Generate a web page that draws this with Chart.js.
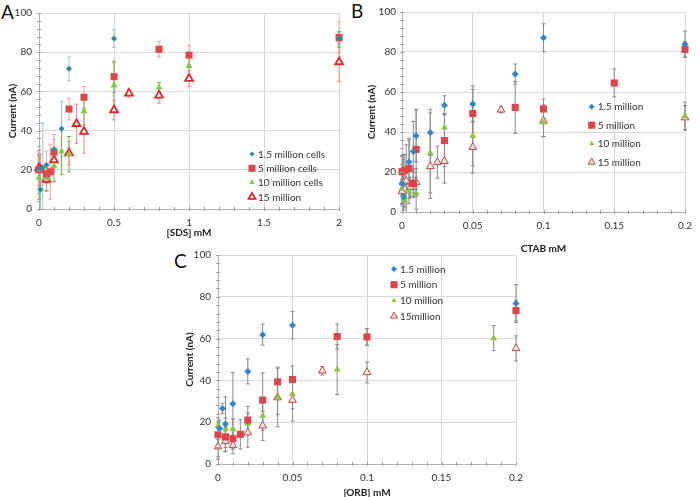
<!DOCTYPE html>
<html lang="en">
<head>
<meta charset="utf-8">
<title>Current vs surfactant concentration</title>
<script src="https://cdn.jsdelivr.net/npm/chart.js@4.4.1/dist/chart.umd.min.js"></script>
<style>
  body { margin: 0; background: #fff; width: 700px; height: 497px; overflow: hidden; position: relative; font-family: Lato, "Open Sans", sans-serif; }
  canvas { position: absolute; }
  .tag { position: absolute; font-size: 19px; color: #111; line-height: 1; }
</style>
</head>
<body>
<div class="tag" style="left:1px;top:2px">A</div>
<div class="tag" style="left:351px;top:1px">B</div>
<div class="tag" style="left:174px;top:251px">C</div>
<canvas id="chartA" width="350" height="245" style="left:0;top:0"></canvas>
<canvas id="chartB" width="350" height="258" style="left:350px;top:0"></canvas>
<canvas id="chartC" width="380" height="262" style="left:170px;top:240px"></canvas>
<script>
// each point is [x (mM), current (nA), error +/-]
// A: SDS
var sds_1_5 = [[0,20,8],[0.01,10,12],[0.025,21,23],[0.05,22.5,7],[0.1,30.5,5],[0.15,41,14],[0.2,71.5,6],[0.5,87,4.5],[2,87,3]];
var sds_5 = [[0,20,10],[0.05,18,5],[0.075,19,14],[0.1,29,9],[0.2,51,5.5],[0.3,57,5.5],[0.5,67.5,8],[0.8,81.5,4],[1,78.5,5],[2,87.5,8]];
var sds_10 = [[0,16,11],[0.05,15.5,6],[0.1,22,8],[0.15,29.5,12],[0.2,28,9],[0.3,50,7],[0.5,63,12],[0.8,62,2.5],[1,73,5],[2,86.5,4]];
var sds_15 = [[0,21,9],[0.01,20,8],[0.05,15,6],[0.1,25,6],[0.2,28.5,6],[0.25,43.5,10],[0.3,39.5,11],[0.5,50.5,5],[0.6,59,2],[0.8,58,4],[1,66.5,4],[2,75,10]];
// B: CTAB
var ctab_1_5 = [[0,14.2,6],[0.001,7.8,5],[0.005,25,11],[0.008,30.3,15],[0.01,38.1,13],[0.02,39.7,11.5],[0.03,53.4,4.7],[0.05,54,9],[0.08,69,5],[0.1,87.1,7],[0.2,83.9,6.5]];
var ctab_5 = [[0,20.2,8],[0.002,20.8,8],[0.005,21.8,15],[0.008,14.3,7],[0.01,31.3,20],[0.03,35.7,13],[0.05,49.2,12],[0.08,52.3,13],[0.1,51.5,5],[0.15,64.5,7],[0.2,81.3,4]];
var ctab_10 = [[0,11.6,8],[0.002,6,4],[0.005,10.3,6],[0.01,9.4,8],[0.02,29.5,20],[0.03,42.2,7],[0.05,38.1,15],[0.1,44.8,7],[0.2,47.9,7]];
var ctab_15 = [[0,10.3,6],[0.001,14.8,14],[0.003,15.6,18],[0.006,12.4,5],[0.008,14,6],[0.01,14.8,7],[0.02,22.8,16],[0.025,24.9,8],[0.03,25.4,11],[0.05,32.4,13],[0.07,51.1,1.5],[0.1,45.6,8],[0.2,47.2,6]];
// C: ORB
var orb_1_5 = [[0.001,17,4],[0.003,26.6,2.5],[0.005,19.1,13],[0.01,28.8,15],[0.02,44.3,6],[0.03,61.9,5],[0.05,66.4,6.5],[0.2,76.8,9]];
var orb_5 = [[0,14,6],[0.005,13,5],[0.01,12.1,5],[0.015,14.2,7],[0.02,21,6.5],[0.03,30.6,13],[0.04,39.3,7],[0.05,40.4,6.5],[0.08,61,6],[0.1,60.8,4],[0.2,73.4,5]];
var orb_10 = [[0,18.2,4],[0.005,17,5],[0.01,16.6,5],[0.02,19.3,5],[0.03,23.1,7],[0.04,31.8,8],[0.05,33.4,7],[0.08,45.2,12],[0.1,60.8,4],[0.185,60.2,6]];
var orb_15 = [[0,8.3,6],[0.005,10.8,5],[0.01,8.9,4],[0.02,15,7],[0.03,18.3,7],[0.04,31.8,14],[0.05,30.6,10],[0.07,44.6,2],[0.1,43.8,5],[0.2,55.3,6]];

var labelsA = ['1.5 million cells', '5 million cells', '10 million cells', '15 million'];
var labelsB = ['1.5 million', '5 million', '10 million', '15 million'];
var labelsC = ['1.5 million', '5 million', '10 million', '15million'];

var FONT = 'Lato, "Open Sans", sans-serif';

function pts(arr) {
  return arr.map(function(p) { return {x: p[0], y: p[1], e: p[2]}; });
}

// vertical error bars with caps, drawn under the markers
var errorBars = {
  id: 'errorBars',
  beforeDatasetsDraw: function(chart) {
    var ctx = chart.ctx, ys = chart.scales.y, a = chart.chartArea;
    ctx.save();
    ctx.beginPath();
    ctx.rect(a.left - 5, a.top - 5, a.right - a.left + 10, a.bottom - a.top + 5);
    ctx.clip();
    chart.data.datasets.forEach(function(ds, i) {
      var meta = chart.getDatasetMeta(i);
      ctx.strokeStyle = ds.errColor;
      ctx.lineWidth = 1;
      meta.data.forEach(function(el, j) {
        var d = ds.data[j];
        var t = ys.getPixelForValue(d.y + d.e), b = ys.getPixelForValue(d.y - d.e);
        ctx.beginPath();
        ctx.moveTo(el.x, t); ctx.lineTo(el.x, b);
        ctx.moveTo(el.x - 2, t); ctx.lineTo(el.x + 2, t);
        ctx.moveTo(el.x - 2, b); ctx.lineTo(el.x + 2, b);
        ctx.stroke();
      });
    });
    ctx.restore();
  }
};

// small minor tick marks on both axes
var minorTicks = {
  id: 'minorTicks',
  afterDraw: function(chart, args, opts) {
    var ctx = chart.ctx, a = chart.chartArea, xs = chart.scales.x, ys = chart.scales.y;
    ctx.save();
    ctx.strokeStyle = '#a0a0a0';
    ctx.lineWidth = 1;
    ctx.beginPath();
    for (var v = 0; v <= 100.001; v += opts.y) {
      var py = Math.round(ys.getPixelForValue(v)) + 0.5;
      ctx.moveTo(a.left - 2, py); ctx.lineTo(a.left + 2, py);
    }
    for (var k = 0; k * opts.x <= xs.max + 1e-9; k++) {
      var px = Math.round(xs.getPixelForValue(k * opts.x)) + 0.5;
      ctx.moveTo(px, a.bottom - 2); ctx.lineTo(px, a.bottom + 2);
    }
    ctx.stroke();
    ctx.restore();
  }
};

// legend drawn inside the plot area
var innerLegend = {
  id: 'innerLegend',
  afterDraw: function(chart, args, opts) {
    var ctx = chart.ctx;
    ctx.save();
    ctx.font = '10px ' + FONT;
    ctx.textBaseline = 'middle';
    ctx.textAlign = 'left';
    chart.data.datasets.forEach(function(ds, i) {
      var y = opts.y + i * opts.dy;
      ctx.fillStyle = ds.pointBackgroundColor;
      ctx.strokeStyle = ds.pointBorderColor;
      ctx.lineWidth = ds.pointBorderWidth;
      Chart.helpers.drawPoint(ctx, {pointStyle: ds.pointStyle, radius: ds.legendRadius, rotation: 0, borderWidth: ds.pointBorderWidth}, opts.x, y);
      ctx.fillStyle = '#333';
      ctx.fillText(ds.label, opts.x + 6, y + 0.5);
    });
    ctx.restore();
  }
};

function series(label, data, style) {
  return Object.assign({
    label: label,
    data: pts(data),
    showLine: false,
    clip: false,
    pointBorderWidth: 0
  }, style);
}

function makeChart(id, datasets, o) {
  return new Chart(document.getElementById(id).getContext('2d'), {
    type: 'scatter',
    data: { datasets: datasets },
    plugins: [errorBars, minorTicks, innerLegend],
    options: {
      responsive: false,
      animation: false,
      events: [],
      layout: { padding: o.pad },
      plugins: {
        legend: { display: false },
        tooltip: { enabled: false },
        minorTicks: o.minor,
        innerLegend: o.legend
      },
      scales: {
        x: {
          type: 'linear', min: 0, max: o.xMax,
          afterFit: function(s) { s.height = o.xH; },
          grid: { color: '#d9d9d9', drawTicks: false },
          border: { color: '#b0b0b0' },
          ticks: {
            stepSize: o.xStep, padding: 8, color: '#333', font: { family: FONT, size: 10 },
            callback: function(v) { return String(+v.toFixed(3)); }
          },
          title: { display: true, text: o.xTitle, color: '#222', padding: { top: 0, bottom: o.xTitlePad }, font: { family: FONT, size: 10, weight: 'bold' } }
        },
        y: {
          min: 0, max: 100,
          afterFit: function(s) { s.width = o.yW; },
          grid: { color: '#d9d9d9', drawTicks: false },
          border: { color: '#b0b0b0' },
          ticks: { stepSize: 20, padding: o.yTickPad, color: '#333', font: { family: FONT, size: 10 } },
          title: { display: true, text: 'Current (nA)', color: '#222', padding: { top: o.yTitlePad, bottom: 0 }, font: { family: FONT, size: 10, weight: 'bold' } }
        }
      }
    }
  });
}

// marker styles for panel A
var stA = [
  { pointStyle: 'rectRot', radius: 3, legendRadius: 2.5, pointBackgroundColor: '#2b8a9e', pointBorderColor: '#2b8a9e', errColor: '#a9c0d2' },
  { pointStyle: 'rect', radius: 5, legendRadius: 5, pointBackgroundColor: '#e0474c', pointBorderColor: '#e0474c', errColor: '#f3a2a2' },
  { pointStyle: 'triangle', radius: 4, legendRadius: 3, pointBackgroundColor: '#80cc3c', pointBorderColor: '#80cc3c', errColor: '#5cc43a' },
  { pointStyle: 'triangle', radius: 4.5, legendRadius: 4, pointBackgroundColor: '#ffffff', pointBorderColor: '#e3252b', pointBorderWidth: 1.8, errColor: '#f08c8c' }
];
// marker styles for panels B and C
var stBC = [
  { pointStyle: 'rectRot', radius: 3.5, legendRadius: 3, pointBackgroundColor: '#2f87d0', pointBorderColor: '#2f87d0', errColor: '#8a8a8a' },
  { pointStyle: 'rect', radius: 5, legendRadius: 5, pointBackgroundColor: '#e04348', pointBorderColor: '#e04348', errColor: '#8a8a8a' },
  { pointStyle: 'triangle', radius: 4, legendRadius: 3, pointBackgroundColor: '#8cc63f', pointBorderColor: '#8cc63f', errColor: '#8a8a8a' },
  { pointStyle: 'triangle', radius: 4.5, legendRadius: 4, pointBackgroundColor: '#fbe3e3', pointBorderColor: '#b5474b', pointBorderWidth: 1, errColor: '#8a8a8a' }
];

function setStyles(st) {
  return st.map(function(s) {
    return Object.assign({ pointRadius: s.radius }, s);
  });
}
var A = setStyles(stA), BC = setStyles(stBC);

makeChart('chartA', [
  series(labelsA[0], sds_1_5, A[0]),
  series(labelsA[1], sds_5, A[1]),
  series(labelsA[2], sds_10, A[2]),
  series(labelsA[3], sds_15, A[3])
], {
  pad: { left: 0, right: 7, top: 5, bottom: 0 },
  xMax: 2, xStep: 0.5, xH: 36, yW: 39, yTickPad: 7, yTitlePad: 7, xTitlePad: 6,
  xTitle: '[SDS] mM',
  minor: { x: 0.1, y: 4 },
  legend: { x: 252, y: 154, dy: 14.3 }
});

makeChart('chartB', [
  series(labelsB[0], ctab_1_5, BC[0]),
  series(labelsB[1], ctab_5, BC[1]),
  series(labelsB[2], ctab_10, BC[2]),
  series(labelsB[3], ctab_15, BC[3])
], {
  pad: { left: 0, right: 6, top: 7, bottom: 0 },
  xMax: 0.2, xStep: 0.05, xH: 46, yW: 52, yTickPad: 6, yTitlePad: 16, xTitlePad: 3,
  xTitle: 'CTAB mM',
  minor: { x: 0.01, y: 4 },
  legend: { x: 241.7, y: 106.7, dy: 18.5 }
});

makeChart('chartC', [
  series(labelsC[0], orb_1_5, BC[0]),
  series(labelsC[1], orb_5, BC[1]),
  series(labelsC[2], orb_10, BC[2]),
  series(labelsC[3], orb_15, BC[3])
], {
  pad: { left: 0, right: 34, top: 15, bottom: 0 },
  xMax: 0.2, xStep: 0.05, xH: 38, yW: 48, yTickPad: 7, yTitlePad: 14, xTitlePad: 3,
  xTitle: '[ORB] mM',
  minor: { x: 0.01, y: 4 },
  legend: { x: 224, y: 29, dy: 15.7 }
});
</script>
</body>
</html>
